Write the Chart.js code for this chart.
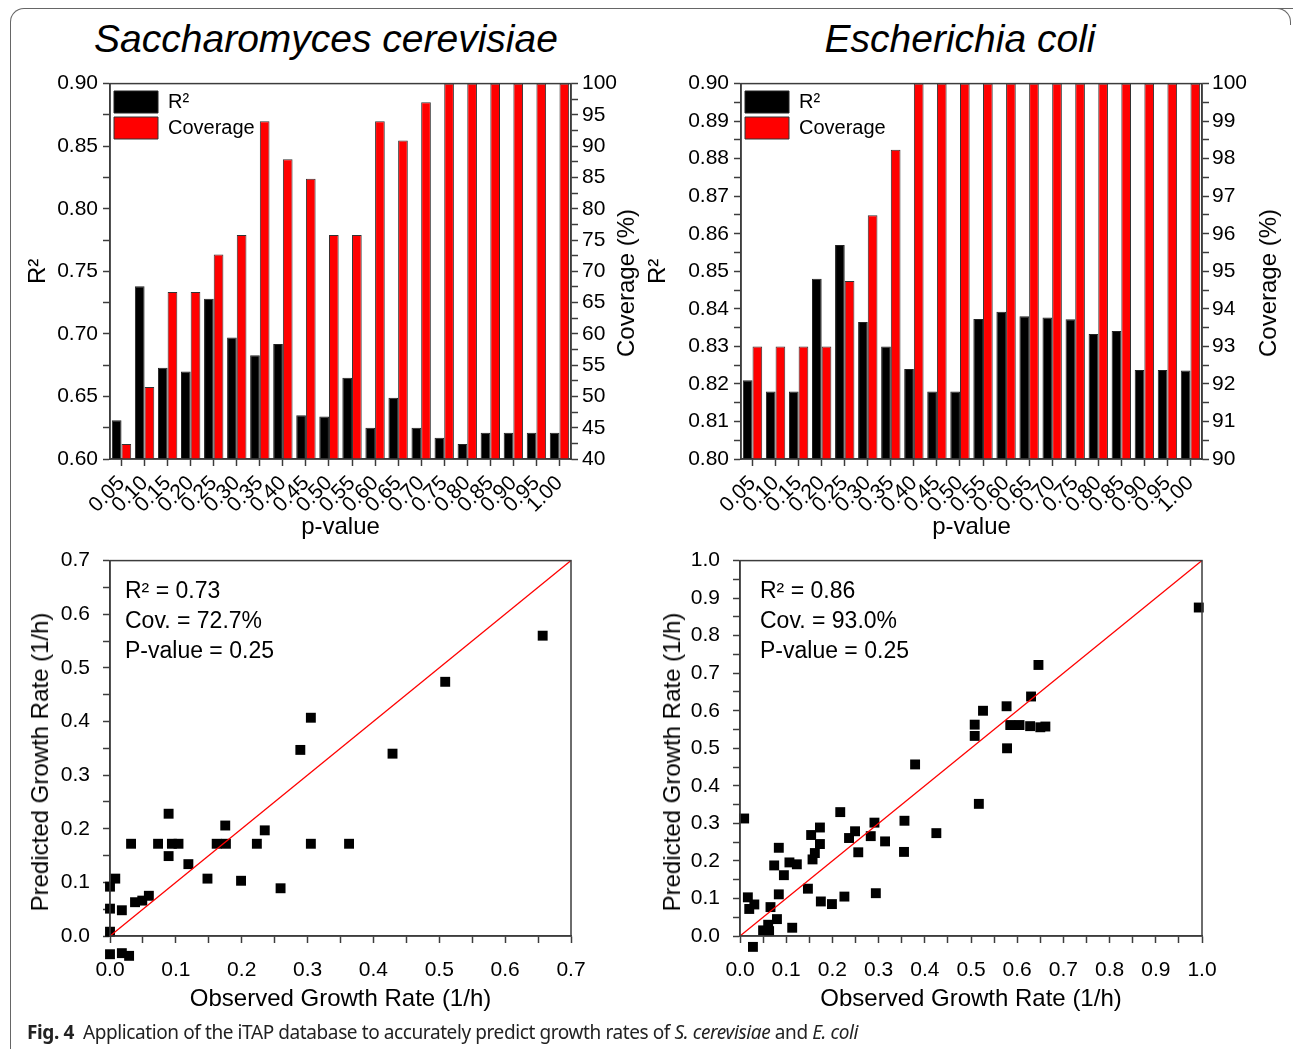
<!DOCTYPE html>
<html>
<head>
<meta charset="utf-8">
<script src="https://cdn.jsdelivr.net/npm/chart.js@4.4.0/dist/chart.umd.min.js"></script>
<style>
  body { margin: 0; background: #fff; width: 1293px; height: 1049px; position: relative; overflow: hidden;
         font-family: 'Liberation Sans', Arial, sans-serif; color: #000; }
  canvas { position: absolute; }
  .txt { position: absolute; white-space: nowrap; }
  .title { font-style: italic; font-size: 39px; text-align: center; top: 16px; line-height: 46px; }
  .vtitle { font-size: 24px; transform: translate(-50%, -50%) rotate(-90deg); }
  .note { font-size: 23px; line-height: 30px; }
  .frame { position: absolute; border-color: #666; border-style: solid; border-width: 0; }
  .caption { left: 27px; top: 1019px; font-family: 'Noto Sans', sans-serif; font-size: 19px; color: #222; letter-spacing: -0.4px; }
</style>
</head>
<body>
<div class="frame" style="left:10px; top:8px; width:1290px; height:1100px; border-top-width:1.5px; border-left-width:1.5px; border-top-left-radius:14px;"></div>
<div class="frame" style="left:1270px; top:8px; width:20px; height:16px; border-top-width:1.5px; border-right-width:1.5px; border-top-right-radius:14px;"></div>

<div class="txt title" style="left:0px; width:652px;">Saccharomyces cerevisiae</div>
<div class="txt title" style="left:660px; width:600px;">Escherichia coli</div>

<canvas id="yeastBars" width="620" height="484" style="left:15px; top:66px;"></canvas>
<canvas id="ecoliBars" width="640" height="484" style="left:640px; top:66px;"></canvas>
<canvas id="yeastScatter" width="625" height="485" style="left:15px; top:535px;"></canvas>
<canvas id="ecoliScatter" width="640" height="485" style="left:640px; top:535px;"></canvas>

<div class="txt vtitle" style="left:626px; top:283px;">Coverage (%)</div>
<div class="txt vtitle" style="left:1268px; top:283px;">Coverage (%)</div>
<div class="txt vtitle" style="left:40px; top:762px;">Predicted Growth Rate (1/h)</div>
<div class="txt vtitle" style="left:672px; top:762px;">Predicted Growth Rate (1/h)</div>

<div class="txt note" style="left:125px; top:575px;">R² = 0.73<br>Cov. = 72.7%<br>P-value = 0.25</div>
<div class="txt note" style="left:760px; top:575px;">R² = 0.86<br>Cov. = 93.0%<br>P-value = 0.25</div>

<div class="txt caption"><b>Fig. 4</b>&nbsp; Application of the iTAP database to accurately predict growth rates of <i>S. cerevisiae</i> and <i>E. coli</i></div>

<script>
// p-value categories shared by both bar charts
const pValues = ['0.05', '0.10', '0.15', '0.20', '0.25', '0.30', '0.35', '0.40', '0.45', '0.50',
                 '0.55', '0.60', '0.65', '0.70', '0.75', '0.80', '0.85', '0.90', '0.95', '1.00'];

// S. cerevisiae bars
const yeastR2 = [0.631, 0.738, 0.673, 0.670, 0.728, 0.697, 0.683, 0.692, 0.635, 0.634,
                 0.665, 0.625, 0.649, 0.625, 0.617, 0.612, 0.621, 0.621, 0.621, 0.621];
const yeastCoverage = [42.4, 51.5, 66.7, 66.7, 72.7, 75.8, 94.0, 87.9, 84.8, 75.8,
                       75.8, 94.0, 90.9, 97.0, 100, 100, 100, 100, 100, 100];

// E. coli bars
const ecoliR2 = [0.821, 0.818, 0.818, 0.848, 0.857, 0.8365, 0.830, 0.824, 0.818, 0.818,
                 0.8373, 0.8392, 0.838, 0.8377, 0.8372, 0.8333, 0.8341, 0.8237, 0.8237, 0.8236];
const ecoliCoverage = [93.0, 93.0, 93.0, 93.0, 94.74, 96.49, 98.24, 100, 100, 100,
                       100, 100, 100, 100, 100, 100, 100, 100, 100, 100];

// S. cerevisiae observed vs predicted growth rate (1/h)
const yeastObserved = [0.657, 0.509, 0.305, 0.289, 0.429, 0.089, 0.175, 0.235, 0.032, 0.073, 0.094,
                       0.104, 0.162, 0.176, 0.223, 0.305, 0.363, 0.089, 0.119, 0.148, 0.199, 0.259,
                       0.008, 0.000, 0.059, 0.049, 0.038, 0.000, 0.018, 0.000, 0.000, 0.018, 0.029];
const yeastPredicted = [0.560, 0.474, 0.407, 0.347, 0.340, 0.228, 0.206, 0.197, 0.172, 0.172, 0.172,
                        0.172, 0.172, 0.172, 0.172, 0.172, 0.172, 0.149, 0.134, 0.107, 0.103, 0.089,
                        0.107, 0.092, 0.075, 0.066, 0.063, 0.051, 0.048, 0.008, -0.034, -0.032, -0.037];

// E. coli observed vs predicted growth rate (1/h)
const ecoliObserved = [0.993, 0.646, 0.630, 0.577, 0.526, 0.508, 0.508, 0.585, 0.605, 0.628, 0.650,
                       0.661, 0.578, 0.379, 0.517, 0.009, 0.217, 0.291, 0.356, 0.173, 0.154, 0.249,
                       0.236, 0.283, 0.425, 0.314, 0.173, 0.256, 0.355, 0.162, 0.157, 0.084, 0.107,
                       0.123, 0.074, 0.095, 0.147, 0.084, 0.294, 0.175, 0.199, 0.226, 0.017, 0.031,
                       0.020, 0.066, 0.080, 0.061, 0.050, 0.063, 0.113, 0.028];
const ecoliPredicted = [0.875, 0.722, 0.638, 0.612, 0.600, 0.563, 0.533, 0.562, 0.562, 0.559, 0.556,
                        0.558, 0.500, 0.457, 0.352, 0.313, 0.330, 0.302, 0.307, 0.289, 0.269, 0.279,
                        0.261, 0.266, 0.274, 0.252, 0.245, 0.223, 0.224, 0.221, 0.204, 0.235, 0.196,
                        0.191, 0.188, 0.162, 0.126, 0.111, 0.114, 0.092, 0.085, 0.105, 0.103, 0.084,
                        0.072, 0.077, 0.045, 0.030, 0.015, 0.013, 0.022, -0.029];

// y = x reference lines
const yeastDiagonal = [0, 0.7];
const ecoliDiagonal = [0, 1.0];

// tick marks (labels on every other one)
const yeastR2Ticks = [0.60, 0.625, 0.65, 0.675, 0.70, 0.725, 0.75, 0.775, 0.80, 0.825, 0.85, 0.875, 0.90];
const yeastCovTicks = [40, 42.5, 45, 47.5, 50, 52.5, 55, 57.5, 60, 62.5, 65, 67.5, 70, 72.5, 75, 77.5,
                       80, 82.5, 85, 87.5, 90, 92.5, 95, 97.5, 100];
const ecoliR2Ticks = [0.80, 0.805, 0.81, 0.815, 0.82, 0.825, 0.83, 0.835, 0.84, 0.845, 0.85,
                      0.855, 0.86, 0.865, 0.87, 0.875, 0.88, 0.885, 0.89, 0.895, 0.90];
const ecoliCovTicks = [90, 90.5, 91, 91.5, 92, 92.5, 93, 93.5, 94, 94.5, 95, 95.5, 96, 96.5, 97,
                       97.5, 98, 98.5, 99, 99.5, 100];
const rate07Ticks = [0, 0.05, 0.1, 0.15, 0.2, 0.25, 0.3, 0.35, 0.4, 0.45, 0.5, 0.55, 0.6, 0.65, 0.7];
const rate10Ticks = [0, 0.05, 0.1, 0.15, 0.2, 0.25, 0.3, 0.35, 0.4, 0.45, 0.5, 0.55, 0.6, 0.65, 0.7,
                     0.75, 0.8, 0.85, 0.9, 0.95, 1.0];

Chart.defaults.font.family = "'Liberation Sans', Arial, sans-serif";
Chart.defaults.font.size = 21;
Chart.defaults.color = '#000';
Chart.defaults.animation = false;

const axisColor = '#3c3c3c';

// full box around the plot area, like the Origin frame
const framePlugin = {
  id: 'frame',
  afterDatasetsDraw(chart) {
    const {ctx, chartArea} = chart;
    ctx.save();
    ctx.strokeStyle = axisColor;
    ctx.lineWidth = 1.5;
    ctx.strokeRect(chartArea.left, chartArea.top, chartArea.width, chartArea.height);
    ctx.restore();
  }
};

// the few points under zero sit below the x axis in the original, so let them draw there
const overhangPlugin = {
  id: 'overhang',
  beforeDatasetsDraw(chart) {
    chart.$plotBottom = chart.chartArea.bottom;
    chart.chartArea.bottom += 40;
  },
  afterDatasetsDraw(chart) {
    chart.chartArea.bottom = chart.$plotBottom;
  }
};

function fixedTicks(list) {
  return scale => { scale.ticks = list.map(v => ({value: v})); };
}

function valueAxis(pos, min, max, tickList, digits, size, pad, title) {
  return {
    type: 'linear',
    position: pos,
    min: min,
    max: max,
    afterBuildTicks: fixedTicks(tickList),
    afterFit: s => { s.width = size; },
    border: {display: true, color: axisColor, width: 1.5},
    grid: {drawOnChartArea: false, tickLength: 7, tickColor: axisColor, tickWidth: 1.5},
    ticks: {autoSkip: false, padding: pad, callback: (v, i) => i % 2 ? '' : v.toFixed(digits)},
    title: title
  };
}

function barChart(id, r2, cov, r2Axis, covAxis) {
  new Chart(document.getElementById(id), {
    type: 'bar',
    data: {
      labels: pValues,
      datasets: [
        {label: 'R²', data: r2, yAxisID: 'y', backgroundColor: '#000', borderColor: '#222', borderWidth: 1},
        {label: 'Coverage', data: cov, yAxisID: 'y1', backgroundColor: '#ff0000', borderColor: '#333', borderWidth: 1}
      ]
    },
    plugins: [framePlugin],
    options: {
      responsive: false,
      layout: {padding: 0},
      datasets: {bar: {categoryPercentage: 0.84, barPercentage: 1.0}},
      plugins: {
        tooltip: {enabled: false},
        legend: {
          position: 'chartArea',
          align: 'start',
          title: {display: true, text: '', font: {size: 1}, padding: {top: 19.8, bottom: 0}},
          labels: {boxWidth: 44, boxHeight: 22, padding: 4, font: {size: 20}, color: '#000'}
        }
      },
      scales: {
        x: {
          afterFit: s => { s.height = 91; },
          border: {display: true, color: axisColor, width: 1.5},
          grid: {drawOnChartArea: false, offset: false, tickLength: 7, tickColor: axisColor, tickWidth: 1.5},
          ticks: {autoSkip: false, minRotation: 45, maxRotation: 45, padding: 5},
          title: {display: true, text: 'p-value', font: {size: 24}, padding: {top: 0, bottom: 8}}
        },
        y: r2Axis,
        y1: covAxis
      }
    }
  });
}

barChart('yeastBars', yeastR2, yeastCoverage,
  valueAxis('left', 0.6, 0.9, yeastR2Ticks, 2, 95, 5,
            {display: true, text: 'R²', font: {size: 24}, padding: {top: 9, bottom: 0}}),
  valueAxis('right', 40, 100, yeastCovTicks, 0, 64, 4, {display: false}));

barChart('ecoliBars', ecoliR2, ecoliCoverage,
  valueAxis('left', 0.8, 0.9, ecoliR2Ticks, 2, 101, 5,
            {display: true, text: 'R²', font: {size: 24}, padding: {top: 4, bottom: 0}}),
  valueAxis('right', 90, 100, ecoliCovTicks, 0, 78, 3, {display: false}));

function scatterChart(id, obs, pred, diag, tickList, maxVal, leftSize, rightPad) {
  const points = obs.map((x, i) => ({x: x, y: pred[i]}));
  const line = diag.map(v => ({x: v, y: v}));
  new Chart(document.getElementById(id), {
    type: 'scatter',
    data: {
      datasets: [
        {data: line, showLine: true, borderColor: '#ff0000', borderWidth: 1.3, pointRadius: 0, clip: false},
        {data: points, pointStyle: 'rect', pointRadius: 7, backgroundColor: '#000', borderColor: '#000',
         borderWidth: 0, clip: false}
      ]
    },
    plugins: [overhangPlugin, framePlugin],
    options: {
      responsive: false,
      layout: {padding: {top: 0, left: 0, right: rightPad, bottom: 0}},
      plugins: {tooltip: {enabled: false}, legend: {display: false}},
      scales: {
        x: {
          type: 'linear', min: 0, max: maxVal,
          afterBuildTicks: fixedTicks(tickList),
          afterFit: s => { s.height = 84; },
          border: {display: true, color: axisColor, width: 1.5},
          grid: {drawOnChartArea: false, tickLength: 7, tickColor: axisColor, tickWidth: 1.5},
          ticks: {autoSkip: false, maxRotation: 0, padding: 15, callback: (v, i) => i % 2 ? '' : v.toFixed(1)},
          title: {display: true, text: 'Observed Growth Rate (1/h)', font: {size: 24}, padding: {top: 0, bottom: 6}}
        },
        y: {
          type: 'linear', min: 0, max: maxVal,
          afterBuildTicks: fixedTicks(tickList),
          afterFit: s => { s.width = leftSize; },
          border: {display: true, color: axisColor, width: 1.5},
          grid: {drawOnChartArea: false, tickLength: 7, tickColor: axisColor, tickWidth: 1.5},
          ticks: {autoSkip: false, padding: 13, callback: (v, i) => i % 2 ? '' : v.toFixed(1)}
        }
      }
    }
  });
}

scatterChart('yeastScatter', yeastObserved, yeastPredicted, yeastDiagonal, rate07Ticks, 0.7, 95, 69);
scatterChart('ecoliScatter', ecoliObserved, ecoliPredicted, ecoliDiagonal, rate10Ticks, 1.0, 100, 78);
</script>
</body>
</html>
